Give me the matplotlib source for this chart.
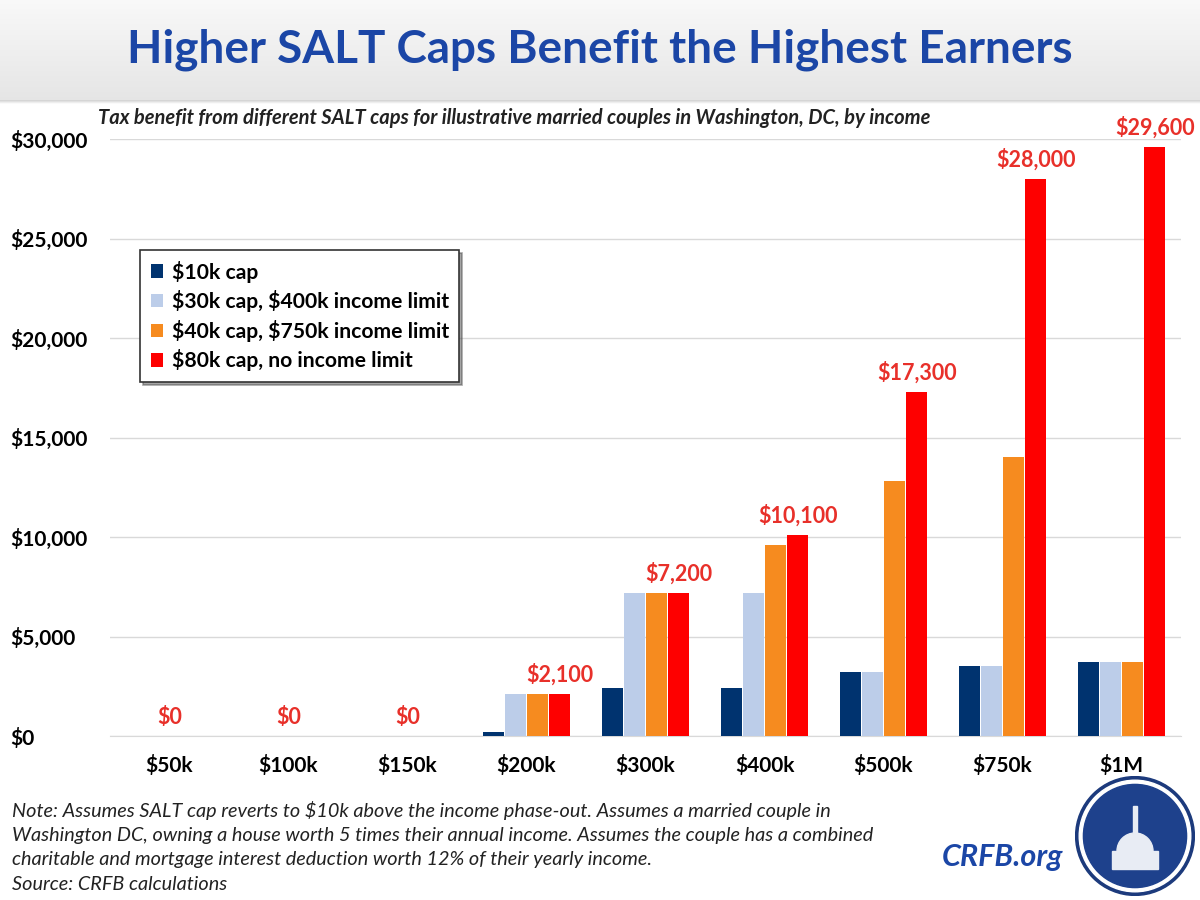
import numpy as np
import matplotlib
matplotlib.use("Agg")
import matplotlib.pyplot as plt
from matplotlib.patches import Circle, Rectangle, Wedge

plt.rcParams['font.family'] = ['Lato', 'DejaVu Sans']
plt.rcParams['text.parse_math'] = False

categories = ["$50k", "$100k", "$150k", "$200k", "$300k", "$400k", "$500k", "$750k", "$1M"]
series_names = ["$10k cap", "$30k cap, $400k income limit",
                "$40k cap, $750k income limit", "$80k cap, no income limit"]
cap10k = [0, 0, 0, 200, 2400, 2400, 3200, 3500, 3700]
cap30k = [0, 0, 0, 2100, 7200, 7200, 3200, 3500, 3700]
cap40k = [0, 0, 0, 2100, 7200, 9600, 12800, 14000, 3700]
cap80k = [0, 0, 0, 2100, 7200, 10100, 17300, 28000, 29600]
yticks = [0, 5000, 10000, 15000, 20000, 25000, 30000]

colors = ["#00336f", "#bccde9", "#f68b1f", "#fe0000"]
label_color = "#e8302a"
title_blue = "#1b46a6"

fig = plt.figure(figsize=(12, 9), dpi=100)
fig.patch.set_facecolor("white")

# header gradient band
hax = fig.add_axes([0, 1 - 100 / 900, 1, 100 / 900])
grad = np.linspace(0.975, 0.90, 100).reshape(-1, 1)
hax.imshow(np.dstack([grad, grad, grad]), aspect="auto", extent=[0, 1, 0, 1])
hax.axis("off")
sax = fig.add_axes([0, 1 - 104 / 900, 1, 4 / 900])
g2 = np.linspace(0.82, 1.0, 10).reshape(-1, 1)
sax.imshow(np.dstack([g2, g2, g2]), aspect="auto", extent=[0, 1, 0, 1])
sax.axis("off")

fig.text(0.5, 1 - 50 / 900, "Higher SALT Caps Benefit the Highest Earners",
         ha="center", va="center", fontsize=33, fontweight="bold", color=title_blue)
fig.text(98 / 1200, 1 - 118 / 900,
         "Tax benefit from different SALT caps for illustrative married couples in Washington, DC, by income",
         ha="left", va="center", fontsize=14.5, fontstyle="italic", fontweight="bold", color="#222222")

ax = fig.add_axes([110 / 1200, 1 - 736 / 900, (1181 - 110) / 1200, (736 - 139) / 900])
x = np.arange(len(categories))
w = 0.175
gap = 0.012
data = [cap10k, cap30k, cap40k, cap80k]
offsets = [(-1.5) * (w + gap), (-0.5) * (w + gap), 0.5 * (w + gap), 1.5 * (w + gap)]
for i, (vals, off) in enumerate(zip(data, offsets)):
    ax.bar(x + off, vals, width=w, color=colors[i], label=series_names[i], zorder=3)

for xi, v in zip(x, cap80k):
    xp = xi + offsets[3] if v > 0 else xi
    ax.annotate(f"${v:,.0f}", (xp, v), xytext=(0, 6), textcoords="offset points",
                ha="center", va="bottom", fontsize=15.5, fontweight="bold",
                color=label_color, zorder=5, annotation_clip=False)

ax.set_xlim(-0.5, len(categories) - 0.5)
ax.set_ylim(0, 30000)
ax.set_yticks(yticks)
ax.set_yticklabels([f"${t:,.0f}" for t in yticks], fontsize=15, fontweight="bold")
ax.set_xticks(x)
ax.set_xticklabels(categories, fontsize=15, fontweight="bold")
ax.tick_params(axis="both", length=0)
ax.tick_params(axis="x", pad=14)
ax.grid(axis="y", color="#d9d9d9", linewidth=1, zorder=0)
for s in ["top", "right", "left"]:
    ax.spines[s].set_visible(False)
ax.spines["bottom"].set_color("#d9d9d9")
for lab in ax.get_yticklabels():
    lab.set_horizontalalignment("left")
    lab.set_x(-100 / 1071)
ax.tick_params(axis="y", pad=0)

leg = ax.legend(loc="upper left", bbox_to_anchor=(30 / 1071, (736 - 250) / 597),
                frameon=True, fancybox=False, shadow=True,
                prop={"weight": "bold", "size": 15.2}, handlelength=0.6, handleheight=0.6,
                handletextpad=0.4, labelspacing=0.36, borderpad=0.5, borderaxespad=0)
leg.get_frame().set_edgecolor("#333333")
leg.get_frame().set_linewidth(1.2)
leg.set_zorder(10)

notes = ["Note: Assumes SALT cap reverts to $10k above the income phase-out. Assumes a married couple in",
         "Washington DC, owning a house worth 5 times their annual income. Assumes the couple has a combined",
         "charitable and mortgage interest deduction worth 12% of their yearly income.",
         "Source: CRFB calculations"]
for i, line in enumerate(notes):
    fig.text(12 / 1200, 1 - (810 + i * 25) / 900, line, ha="left", va="center",
             fontsize=14.3, fontstyle="italic", color="#222222")

fig.text(1003 / 1200, 1 - 857 / 900, "CRFB.org", ha="center", va="center",
         fontsize=22, fontweight="bold", fontstyle="italic", color=title_blue)

# logo
lax = fig.add_axes([1075 / 1200, 1 - 896 / 900, 120 / 1200, 120 / 900])
lax.set_xlim(-1, 1)
lax.set_ylim(-1, 1)
lax.set_aspect("equal")
lax.axis("off")
lax.add_patch(Circle((0, 0), 0.99, color="#1c3a7c"))
lax.add_patch(Circle((0, 0), 0.93, color="white"))
lax.add_patch(Circle((0, 0), 0.86, color="#1e418c"))
lax.add_patch(Rectangle((-0.38, -0.55), 0.76, 0.3, color="#e8ecf4"))
lax.add_patch(Wedge((0, -0.25), 0.3, 0, 180, color="#e8ecf4"))
lax.add_patch(Rectangle((-0.03, 0.05), 0.06, 0.45, color="#e8ecf4"))

fig.savefig("out.png", dpi=100)
